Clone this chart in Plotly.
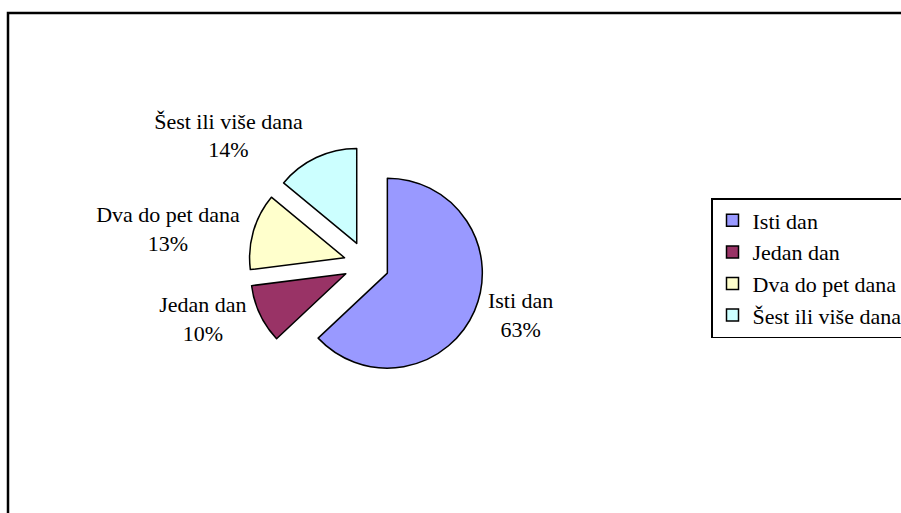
import plotly.graph_objects as go

labels = ["Isti dan", "Jedan dan", "Dva do pet dana", "Šest ili više dana"]
values = [63, 10, 13, 14]
colors = ["#9999FF", "#993366", "#FFFFCC", "#CCFFFF"]

W, H = 901, 513
FONT = "Liberation Serif, Times New Roman, serif"

fig = go.Figure(go.Pie(
    labels=labels,
    values=values,
    sort=False,
    direction="clockwise",
    rotation=0,
    pull=[0.24] * 4,
    marker=dict(colors=colors, line=dict(color="black", width=1.5)),
    textposition="outside",
    texttemplate="%{label}<br>%{percent:.0%}",
    textfont=dict(family=FONT, size=22, color="black"),
    domain=dict(x=[0.2760, 0.5374], y=[0.2556, 0.7149]),
    hoverinfo="label+percent",
))

fig.update_layout(
    width=W, height=H,
    margin=dict(l=0, r=0, t=0, b=0, pad=0, autoexpand=False),
    paper_bgcolor="white",
    plot_bgcolor="white",
    showlegend=True,
    legend=dict(
        x=711 / W, xanchor="left",
        y=(H - 268) / H, yanchor="middle",
        font=dict(family=FONT, size=22, color="black"),
        bordercolor="black", borderwidth=1.5,
        bgcolor="white",
        traceorder="normal",
    ),
    shapes=[dict(
        type="rect", xref="paper", yref="paper",
        x0=8 / W, x1=1.3, y0=-0.3, y1=(H - 13) / H,
        line=dict(color="black", width=2.5),
        fillcolor="rgba(0,0,0,0)", layer="below",
    )],
)

fig.write_html(
    "out.html",
    config={"displayModeBar": False},
    post_script="document.body.style.margin='0';document.body.style.overflow='hidden';",
)
